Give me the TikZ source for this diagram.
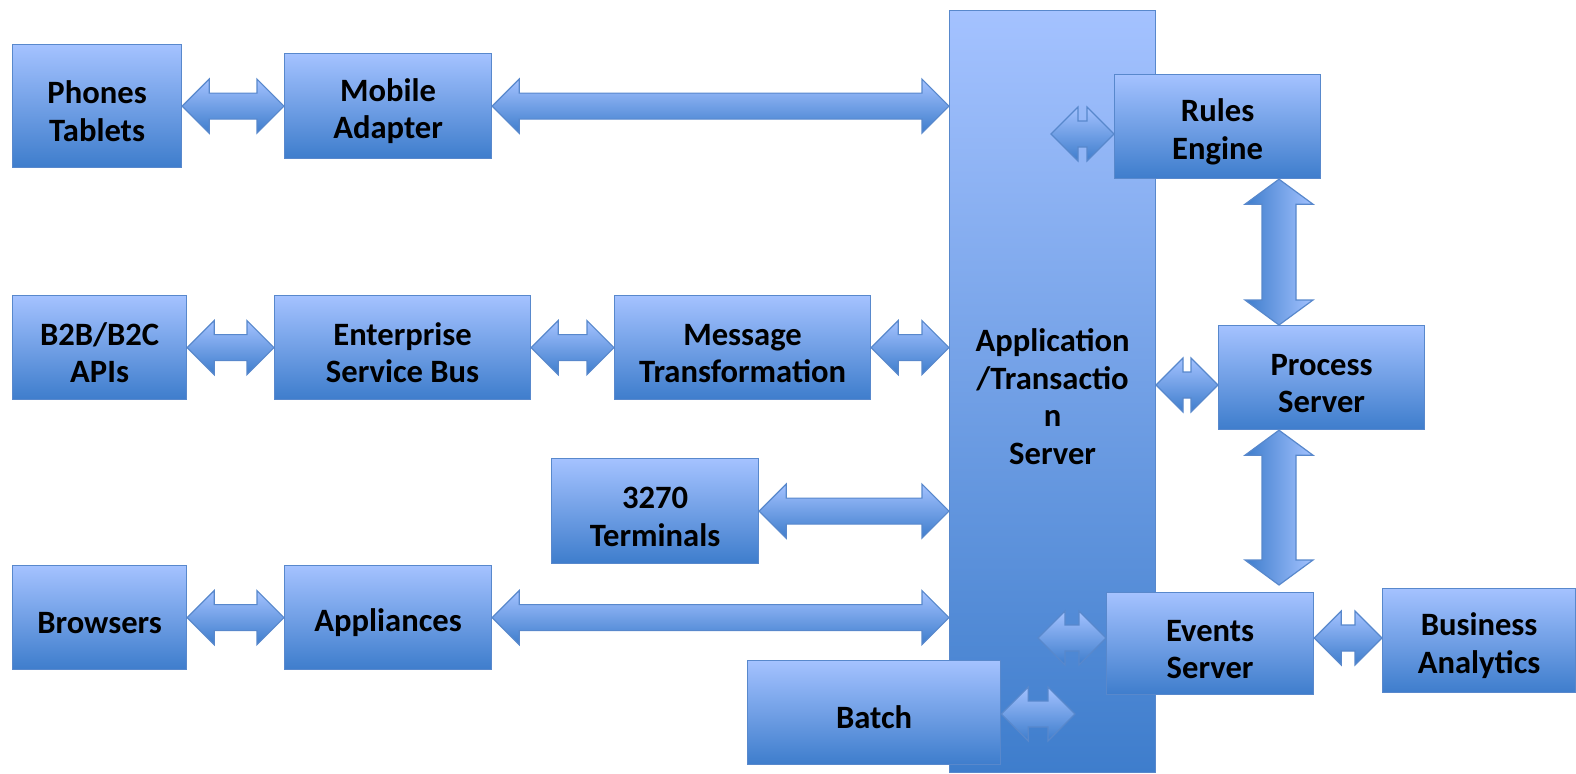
\documentclass[tikz,border=0pt]{standalone}
\usepackage{fontspec}
\setmainfont{Carlito}
\usetikzlibrary{calc}
\definecolor{top-blue}{RGB}{164,194,255}
\definecolor{bottom-blue}{RGB}{62,125,204}
\definecolor{edge-blue}{RGB}{88,136,204}
\def\headlen{13.5pt}
\def\headhw{13.5pt}
\def\shafthw{6.5pt}
\def\vheadlen{12.5pt}
\def\vheadhw{17pt}
\def\vshafthw{8.5pt}
\newcommand\toppad{\rule{0pt}{16.5pt}}
\newcommand\HorizArrow[2]{%
    \path [hfat] let \p1=(#1), \p2=(#2) in
      (\x1,\y1) -- ({\x1+\headlen},{\y1+\headhw}) -- ({\x1+\headlen},{\y1+\shafthw})
      -- ({\x2-\headlen},{\y1+\shafthw}) -- ({\x2-\headlen},{\y1+\headhw}) -- (\x2,\y1)
      -- ({\x2-\headlen},{\y1-\headhw}) -- ({\x2-\headlen},{\y1-\shafthw})
      -- ({\x1+\headlen},{\y1-\shafthw}) -- ({\x1+\headlen},{\y1-\headhw}) -- cycle;
  }
\newcommand\VertArrow[2]{%
    \path [vfat] let \p1=(#1), \p2=(#2) in
      (\x1,\y1) -- ({\x1+\vheadhw},{\y1-\vheadlen}) -- ({\x1+\vshafthw},{\y1-\vheadlen})
      -- ({\x1+\vshafthw},{\y2+\vheadlen}) -- ({\x1+\vheadhw},{\y2+\vheadlen}) -- (\x1,\y2)
      -- ({\x1-\vheadhw},{\y2+\vheadlen}) -- ({\x1-\vshafthw},{\y2+\vheadlen})
      -- ({\x1-\vshafthw},{\y1-\vheadlen}) -- ({\x1-\vheadhw},{\y1-\vheadlen}) -- cycle;
  }
\begin{document}
\begin{tikzpicture}[%
            x=0.5pt,y=-0.5pt,
            block/.style n args={4}{%
              draw=edge-blue,line width=0.6pt,
              top color=top-blue,bottom color=bottom-blue,
              anchor=north west,inner sep=0pt,align=center,
              font=\bfseries\fontsize{16.3}{18.8}\selectfont,
              at={(#1,#2)},
              minimum width={(#3-#1)*0.5pt},
              minimum height={(#4-#2)*0.5pt}
            },
            hfat/.style={draw=edge-blue,line width=0.6pt,line join=miter,
              top color=top-blue,bottom color=bottom-blue},
            vfat/.style={draw=edge-blue,line width=0.6pt,line join=miter,
              left color=bottom-blue,right color=top-blue}
          ]
            \useasboundingbox (0,0) rectangle (1576,773);

            % the server in the middle
            \node [block={949}{10}{1155}{772}] (app) {\toppad Application\\/Transactio\\n\\Server};

            % clients on the left
            \node [block={12}{44}{181}{167}] (phones) {\toppad Phones\\Tablets};
            \node [block={284}{53}{491}{158}] (mobile) {\toppad Mobile\\Adapter};
            \node [block={12}{295}{186}{399}] (b2b) {\toppad B2B/B2C\\APIs};
            \node [block={274}{295}{530}{399}] (esb) {\toppad Enterprise\\Service Bus};
            \node [block={614}{295}{870}{399}] (msg) {\toppad Message\\Transformation};
            \node [block={551}{458}{758}{563}] (terminals) {\toppad 3270\\Terminals};
            \node [block={12}{565}{186}{669}] (browsers) {\toppad Browsers};
            \node [block={284}{565}{491}{669}] (appliances) {\toppad Appliances};

            \HorizArrow{phones.east}{mobile.west}
            \HorizArrow{mobile.east}{mobile.east -| app.west}
            \HorizArrow{b2b.east}{esb.west}
            \HorizArrow{esb.east}{msg.west}
            \HorizArrow{msg.east}{msg.east -| app.west}
            \HorizArrow{terminals.east}{terminals.east -| app.west}
            \HorizArrow{browsers.east}{appliances.west}
            \HorizArrow{appliances.east}{appliances.east -| app.west}

            % servers on the right
            \node [block={1114}{74}{1320}{178}] (rules) {\toppad Rules\\Engine};
            \node [block={1218}{325}{1424}{429}] (process) {\toppad Process\\Server};
            \node [block={1106}{592}{1313}{694}] (events) {\toppad Events\\Server};
            \node [block={1382}{588}{1575}{692}] (analytics) {\toppad Business\\Analytics};
            \node [block={747}{660}{1000}{764}] (batch) {\toppad Batch};

            \coordinate (rulesport) at (1051,134);
            \coordinate (procport) at (1156,385);
            \coordinate (eventsport) at (1038,638);
            \coordinate (batchport) at (1075,714);
            \coordinate (vx) at (1279,0);
            \coordinate (eventstop) at (1279,585);

            \HorizArrow{rulesport}{rulesport -| rules.west}
            \HorizArrow{procport}{procport -| process.west}
            \HorizArrow{eventsport}{eventsport -| events.west}
            \HorizArrow{eventsport -| events.east}{eventsport -| analytics.west}
            \HorizArrow{batchport -| batch.east}{batchport}
            \VertArrow{rules.south -| vx}{process.north -| vx}
            \VertArrow{process.south -| vx}{eventstop}
          \end{tikzpicture}
\end{document}
